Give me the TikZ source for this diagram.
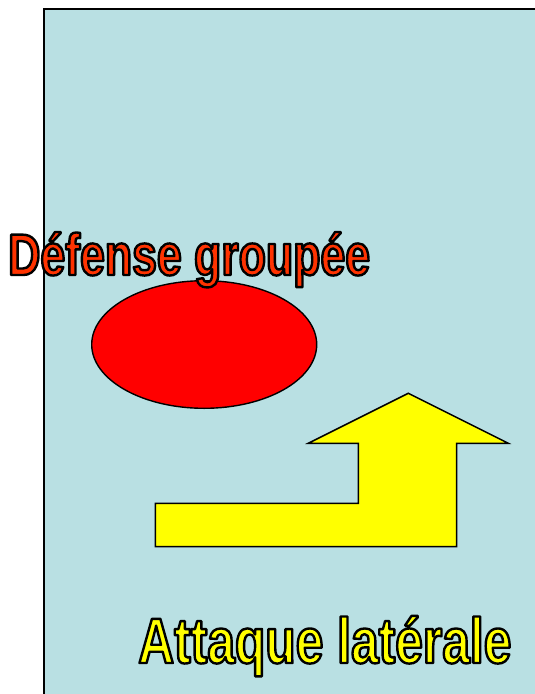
\documentclass[tikz,border=0pt]{standalone}
\usepackage{fontspec}
\newfontfamily\titrefont[FakeStretch=0.76]{Liberation Sans}
\newfontfamily\attaquefont[FakeStretch=0.775]{Liberation Sans}
\definecolor{fond}{RGB}{185,224,227}
\definecolor{rougetitre}{RGB}{255,51,0}
\definecolor{jaune}{RGB}{255,255,0}
% texte plein avec contour noir (mode de rendu 2)
\newcommand\contourne[2]{{\color{#1}\special{pdf:code q 2 Tr 2.4 w 1 j 0 0 0 RG}#2\special{pdf:code Q}}}

\begin{document}
\begin{tikzpicture}[line join=miter,x=1pt,y=-1pt]
\tikzset{
  titre/.style={anchor=base west,inner sep=0pt},
}

% taille de la page
\useasboundingbox (0,0) rectangle (535,694);

% le terrain (coupé à droite et en bas)
\fill[fond] (44,9) rectangle (545,704);
\draw[line width=2pt] (44,704) -- (44,9) -- (545,9);

% la défense : ellipse rouge
\def\cx{204.2}
\def\cy{344.5}
\draw[fill=red,line width=1.4pt] (\cx,\cy) ellipse [x radius=112.5,y radius=63.8];

% la flèche jaune coudée
\draw[fill=jaune,line width=1.5pt]
  (155.3,546.7) -- (155.3,503.3) -- (358.3,503.3) -- (358.3,443.3)
  -- (308.3,443.3) -- (408.3,393.3) -- (508.3,443.3) -- (456.7,443.3)
  -- (456.7,546.7) -- cycle;

% les textes
\node[titre,font=\titrefont\bfseries\fontsize{58.7}{60}\selectfont] (defense) at (8,275)
  {\contourne{rougetitre}{Défense groupée}};
\node[titre,font=\attaquefont\bfseries\fontsize{64.2}{66}\selectfont] (attaque) at (138,663)
  {\contourne{jaune}{Attaque latérale}};

\end{tikzpicture}
\end{document}
